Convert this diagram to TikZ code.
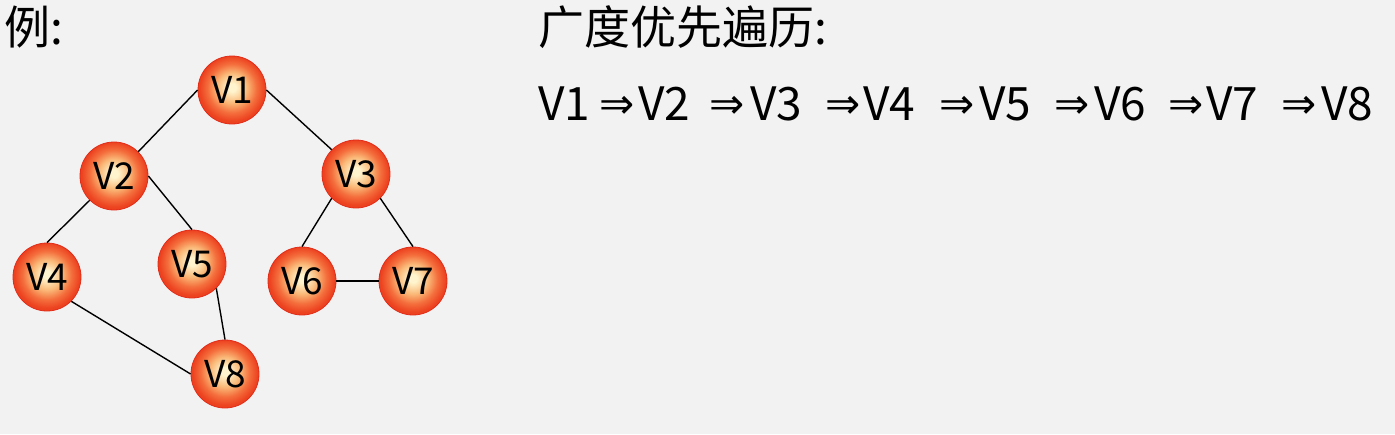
\documentclass[tikz,border=0pt]{standalone}
\usepackage{fontspec}
\setmainfont{Noto Sans CJK SC}
\newfontfamily\arrowfont{DejaVu Sans}
\definecolor{bgc}{RGB}{242,242,242}
\definecolor{orbA}{RGB}{255,244,205}
\definecolor{orbB}{RGB}{250,185,120}
\definecolor{orbC}{RGB}{244,110,60}
\definecolor{orbD}{RGB}{236,66,32}
\definecolor{orbedge}{RGB}{226,44,24}
\pgfdeclareradialshading{orb}{\pgfpoint{0bp}{2bp}}{color(0bp)=(orbA); color(3bp)=(orbA); color(11bp)=(orbB); color(18bp)=(orbC); color(24bp)=(orbD); color(26bp)=(orbD); color(50bp)=(orbD)}
\tikzset{
  vtx/.style={circle, shading=orb, draw=orbedge, line width=0.8pt, minimum size=68pt, inner sep=0pt, font=\fontsize{37}{40}\selectfont},
  edge/.style={line width=1.4pt, black},
  hd/.style={font=\fontsize{46}{50}\selectfont, inner sep=0pt, anchor=base west},
  seq/.style={font=\fontsize{46}{50}\selectfont, inner sep=0pt, anchor=base west},
  arr/.style={font=\arrowfont\fontsize{42}{44}\selectfont, inner sep=0pt, anchor=base west}
}
\begin{document}
\begin{tikzpicture}[x=1pt,y=-1pt]
\fill[bgc] (0,0) rectangle (1395,434);
\useasboundingbox (0,0) rectangle (1395,434);
\node[hd] (ex) at (4,44) {例:};
\node[hd] (bfs) at (538,44) {广度优先遍历:};
\node[vtx] (v1) at (232,90) {V1};
\node[vtx] (v2) at (114,176) {V2};
\node[vtx] (v3) at (356,174) {V3};
\node[vtx] (v4) at (47,277) {V4};
\node[vtx] (v5) at (192,264) {V5};
\node[vtx] (v6) at (302,281) {V6};
\node[vtx] (v7) at (413,281) {V7};
\node[vtx] (v8) at (225,374) {V8};
\draw[edge] (v1.west) -- (v2.north east);
\draw[edge] (v1.east) -- (v3.north west);
\draw[edge] (v2.south west) -- (v4.north);
\draw[edge] (v2.east) -- (v5.north);
\draw[edge] (v3.south west) -- (v6.north);
\draw[edge] (v3.south east) -- (v7.north);
\draw[edge] (v6.east) -- (v7.west);
\draw[edge] (v4.south east) -- (v8.west);
\draw[edge] (v5.south east) -- (v8.north);
\node[seq] (s1) at (538,120) {V1};
\node[arr] (a2) at (599,118) {⇒};
\node[seq] (s2) at (638,120) {V2};
\node[arr] (a3) at (709,118) {⇒};
\node[seq] (s3) at (750,120) {V3};
\node[arr] (a4) at (825,118) {⇒};
\node[seq] (s4) at (863,120) {V4};
\node[arr] (a5) at (939,118) {⇒};
\node[seq] (s5) at (979,120) {V5};
\node[arr] (a6) at (1054,118) {⇒};
\node[seq] (s6) at (1094,120) {V6};
\node[arr] (a7) at (1168,118) {⇒};
\node[seq] (s7) at (1206,120) {V7};
\node[arr] (a8) at (1281,118) {⇒};
\node[seq] (s8) at (1321,120) {V8};
\end{tikzpicture}
\end{document}
